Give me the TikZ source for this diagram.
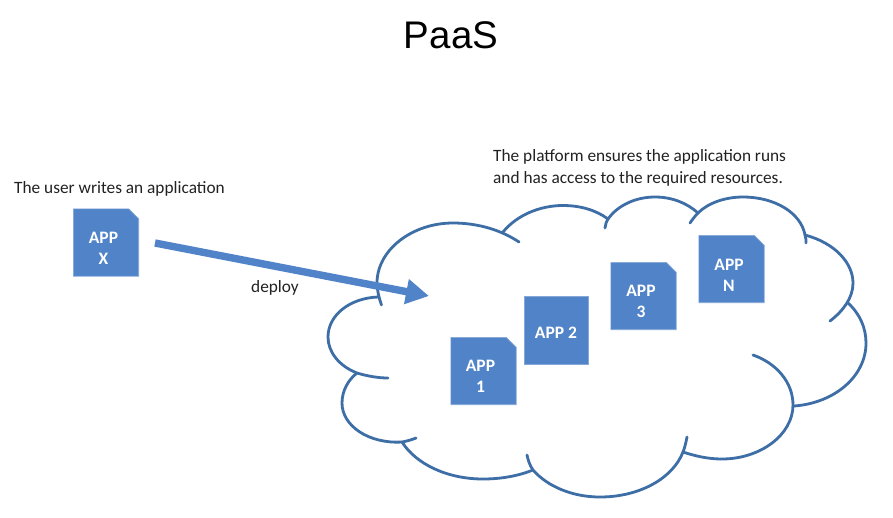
\documentclass[tikz,border=0pt]{standalone}
\usepackage{fontspec}
\setmainfont{Carlito}
\newfontfamily\titlefont{Liberation Sans}
\usetikzlibrary{arrows.meta,calc}
\definecolor{cloudblue}{HTML}{3E6EA6}
\definecolor{appblue}{HTML}{5183C9}
\definecolor{inkgrey}{HTML}{222222}
\tikzset{
  x=1pt,y=-1pt,
  cloudarc/.style={draw=cloudblue,line width=2.8pt,line cap=round},
  appframe/.style={rectangle,minimum width=65pt,minimum height=67pt,inner sep=0pt},
  appsheet/.style={fill=appblue,draw=appblue!70!white,line width=0.6pt},
  plainbox/.style={rectangle,fill=appblue,draw=appblue!70!white,line width=0.6pt,
    minimum width=64pt,minimum height=68pt,inner sep=0pt},
  applabel/.style={text=white,align=center,font=\fontsize{17.5}{21}\selectfont\bfseries,inner sep=0pt},
  caption/.style={text=inkgrey,font=\fontsize{17.3}{22}\selectfont,align=left,inner sep=0pt},
  deployarrow/.style={draw=appblue,line width=7.4pt,-{Triangle[length=23pt,width=24pt]}}
}
\newcommand{\appsheetnode}[5]{%
  \node[appframe] (#1) at (#2) {};
  \path[appsheet] (#1.south west) |- ($(#1.north east)+(-10,0)$) -- ($(#1.north east)+(0,10)$) |- cycle;
  \node[applabel] (#1-text) at ($(#1.center)+(#3,#4)$) {#5};
}
\begin{document}
\begin{tikzpicture}
\useasboundingbox (0,0) rectangle (893,517);
\fill[white] (0,0) rectangle (893,517);
\node[font=\titlefont\fontsize{38.5}{40}\selectfont,inner sep=0pt] (title) at (451,35) {PaaS};
\node[caption,anchor=west] (user) at (14,188.5) {The user writes an application};
\node[caption,anchor=north west] (platform) at (493,149) {The platform ensures the application runs\\and has access to the required resources.};
\node[caption] (deploylabel) at (275,287.5) {deploy};
% cloud
\draw[cloudarc] (381.5,305) .. controls (379,298) and (377,290) .. (377,283) .. controls (377,250) and (412,223) .. (453,223) .. controls (478,223) and (501,230) .. (519,242);
\draw[cloudarc] (503,232) .. controls (517,215) and (540,205.5) .. (563,205.5) .. controls (580,205.5) and (596,210) .. (608,219);
\draw[cloudarc] (605,228) .. controls (606,224) and (606,221) .. (608,219) .. controls (618,205) and (636,197) .. (655,197) .. controls (672,197) and (687,203) .. (698,213);
\draw[cloudarc] (690,223) .. controls (692,220) and (695,216) .. (698,213) .. controls (708,203) and (725,197) .. (743,197) .. controls (775,197) and (801,213) .. (805,235) .. controls (806,238) and (806,240) .. (806,243);
\draw[cloudarc] (805,235) .. controls (835,243) and (853,263) .. (853,283) .. controls (853,298) and (843,311) .. (830,321);
\draw[cloudarc] (848,303) .. controls (860,314) and (866,328) .. (866,343) .. controls (866,376) and (835,403) .. (794,406);
\draw[cloudarc] (753,355) .. controls (776,363) and (793,382) .. (793,405) .. controls (793,435) and (760,459) .. (722,459) .. controls (708,459) and (695,456) .. (683,452);
\draw[cloudarc] (687,437) .. controls (686,442) and (685,447) .. (683,452) .. controls (673,478) and (640,497) .. (600,497) .. controls (573,497) and (548,487) .. (533,470) .. controls (530,466) and (528,460) .. (527,455);
\draw[cloudarc] (533,470) .. controls (518,476) and (501,479) .. (483,479) .. controls (447,479) and (416,464) .. (402,442);
\draw[cloudarc] (416,438) .. controls (411,440) and (407,441) .. (402,442) .. controls (369,444) and (342,426) .. (342,403) .. controls (342,391) and (348,380) .. (357,373);
\draw[cloudarc] (388,378) .. controls (378,378) and (367,376) .. (357,373) .. controls (339,366) and (328,352) .. (328,337) .. controls (328,315) and (350,298) .. (378,297);
% apps
\appsheetnode{appx}{106,242.5}{-2.5}{6}{APP\\X}
\appsheetnode{app1}{483.5,371}{-3}{5}{APP\\1}
\node[plainbox,label={[applabel,yshift=-2.5pt]center:APP 2}] (app2) at (556,330) {};
\appsheetnode{app3}{643.5,296}{-2.5}{5}{APP\\3}
\appsheetnode{appn}{731.5,269}{-2.5}{6}{APP\\N}
\coordinate (deploystart) at (155,243);
\coordinate (deployend) at (429,296);
\draw[deployarrow] (deploystart) -- (deployend);
\end{tikzpicture}
\end{document}
